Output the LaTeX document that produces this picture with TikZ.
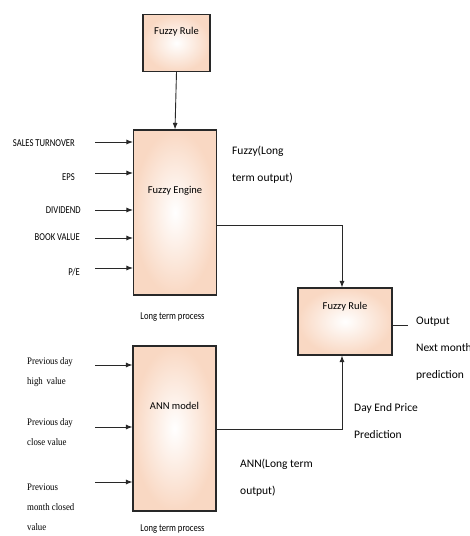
\documentclass[tikz,border=0pt]{standalone}
\usepackage{fontspec}
\setmainfont{Carlito}
\newfontfamily\cond[FakeStretch=0.82]{Carlito}
\newfontfamily\tms[FakeStretch=0.88]{Liberation Serif}
\usetikzlibrary{arrows.meta}
\definecolor{peach}{RGB}{249,216,195}
\definecolor{edge}{RGB}{40,40,40}
\begin{document}
\begin{tikzpicture}[x=1pt,y=-1pt,
  box/.style={draw=edge,line width=1.1pt,inner color=white,outer color=peach,minimum width=#1,inner sep=0pt},
  conn/.style={draw=edge,line width=0.9pt},
  arr/.style={conn,-{Latex[length=6.5pt,width=5pt]}},
  inlab/.style={font=\cond\fontsize{10.5}{12}\selectfont,anchor=east,inner sep=0pt},
  tlab/.style={font=\tms\fontsize{10}{20}\selectfont,anchor=north west,align=left,inner sep=0pt},
  rlab/.style={font=\fontsize{11.5}{27}\selectfont,anchor=north west,align=left,inner sep=0pt},
  btxt/.style={font=\fontsize{10.5}{12}\selectfont,inner sep=0pt},
  ltp/.style={font=\cond\fontsize{10.5}{12}\selectfont,inner sep=0pt}]
\useasboundingbox (0,0) rectangle (470,536);
% boxes
\node[box=67pt,minimum height=57pt] (rule1) at (176.5,43) {};
\node[btxt] (rule1t) at (176.5,32) {Fuzzy Rule};
\node[box=83pt,minimum height=165pt] (engine) at (175,212.5) {};
\node[btxt] (enginet) at (175,191) {Fuzzy Engine};
\node[box=83pt,minimum height=165pt] (ann) at (174.5,428.5) {};
\node[btxt] (annt) at (174.5,406) {ANN model};
\node[box=94pt,minimum height=67pt] (rule2) at (345,321.5) {};
\node[btxt] (rule2t) at (345,307) {Fuzzy Rule};
% process labels
\node[ltp] (ltp1) at (172.5,317) {Long term process};
\node[ltp] (ltp2) at (172.5,529) {Long term process};
% fuzzy engine inputs
\coordinate (i1) at (95,142);
\coordinate (i2) at (95,173);
\coordinate (i3) at (95,210);
\coordinate (i4) at (95,238);
\coordinate (i5) at (95,268);
\node[inlab] (l1) at (75,143) {SALES TURNOVER};
\node[inlab] (l2) at (75,177) {EPS};
\node[inlab] (l3) at (81,210) {DIVIDEND};
\node[inlab] (l4) at (80,237) {BOOK VALUE};
\node[inlab] (l5) at (80,272) {P/E};
\foreach \c in {i1,i2,i3,i4,i5} \draw[arr] (\c) -- (engine.west |- \c);
% ANN inputs
\coordinate (a1) at (95,365);
\coordinate (a2) at (95,427);
\coordinate (a3) at (95,482);
\node[tlab] (m1) at (27,357.5) {Previous day\\high\, value};
\node[tlab] (m2) at (27,418) {Previous day\\close value};
\node[tlab] (m3) at (27,484) {Previous\\month closed\\value};
\foreach \c in {a1,a2,a3} \draw[arr] (\c) -- (ann.west |- \c);
% main connectors
\draw[arr] (rule1.south) -- (engine.north);
\draw[arr] ([yshift=-12.5pt]engine.east) -| ([xshift=-3pt]rule2.north);
\draw[arr] ([yshift=-0.5pt]ann.east) -| ([xshift=-3pt]rule2.south);
\coordinate (outend) at (408,325);
\draw[conn] (rule2.east |- outend) -- (outend);
% right labels
\node[rlab] (fz) at (232,146) {Fuzzy(Long\\term output)};
\node[rlab] (out) at (416,317) {Output\\Next month\\prediction};
\node[rlab] (dep) at (354,403) {Day End Price\\Prediction};
\node[rlab] (annl) at (240,458.5) {ANN(Long term\\output)};
\end{tikzpicture}
\end{document}
